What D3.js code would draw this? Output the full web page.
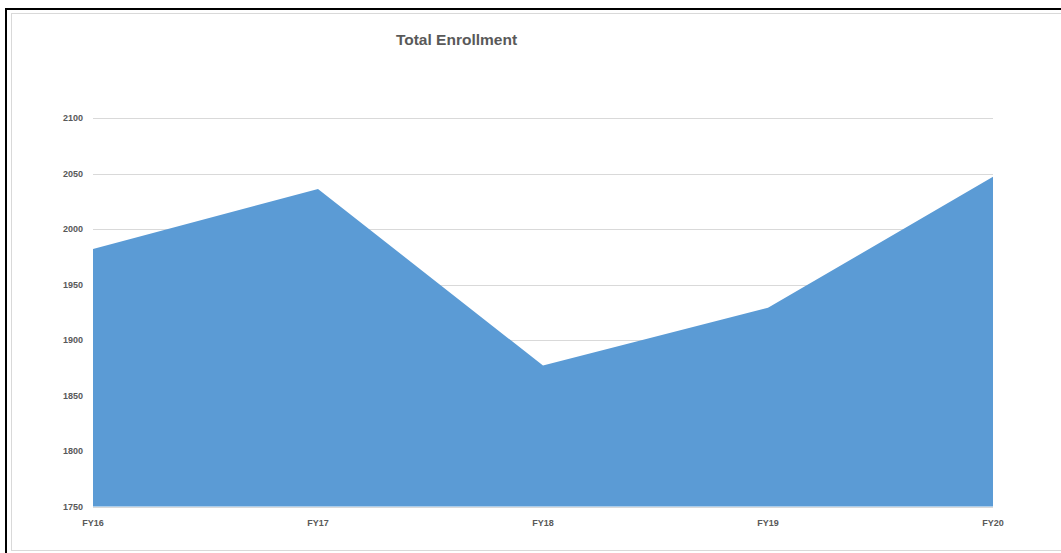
<!DOCTYPE html>
<html><head><meta charset="utf-8">
<script src="https://cdn.jsdelivr.net/npm/d3@7"></script>
<style>body{margin:0;background:#fff;}svg{display:block;}</style>
</head><body>
<script>
const categories = ["FY16","FY17","FY18","FY19","FY20"];
const enrollment = [1982, 2036, 1877, 1929, 2047];
const yTicks = [1750,1800,1850,1900,1950,2000,2050,2100];
const chartTitle = "Total Enrollment";

const W = 1061, H = 553;
const svg = d3.select("body").append("svg").attr("width", W).attr("height", H);

// frames
svg.append("rect").attr("x", 6).attr("y", 9).attr("width", W + 10).attr("height", H + 10)
  .attr("fill", "none").attr("stroke", "#000").attr("stroke-width", 2);
svg.append("rect").attr("x", 11.5).attr("y", 13.5).attr("width", W + 10).attr("height", 537)
  .attr("fill", "#fff").attr("stroke", "#d9d9d9").attr("stroke-width", 1);

const x = d3.scalePoint().domain(categories).range([93, 993]);
const y = d3.scaleLinear().domain([1750, 2100]).range([506.5, 118]);

// grid
svg.append("g").selectAll("line").data(yTicks.filter(d => d > 1750)).join("line")
  .attr("x1", 93).attr("x2", 993)
  .attr("y1", d => Math.round(y(d)) + 0.5).attr("y2", d => Math.round(y(d)) + 0.5)
  .attr("stroke", "#d9d9d9").attr("stroke-width", 1);

// area
const data = categories.map((c, i) => ({c, v: enrollment[i]}));
svg.append("path").datum(data)
  .attr("d", d3.area().x(d => x(d.c)).y0(y(1750)).y1(d => y(d.v)))
  .attr("fill", "#5b9bd5");

// baseline
svg.append("line").attr("x1", 93).attr("x2", 993)
  .attr("y1", Math.round(y(1750)) + 0.5).attr("y2", Math.round(y(1750)) + 0.5)
  .attr("stroke", "#d9d9d9");

const font = "'Liberation Sans', Arial, sans-serif";
// y labels
svg.append("g").selectAll("text").data(yTicks).join("text")
  .attr("x", 83).attr("y", d => y(d) + 3)
  .attr("text-anchor", "end")
  .attr("font-family", font).attr("font-weight", "bold").attr("font-size", 9)
  .attr("fill", "#595959").text(d => d);

// x labels
svg.append("g").selectAll("text").data(categories).join("text")
  .attr("x", d => x(d)).attr("y", 526)
  .attr("text-anchor", "middle")
  .attr("font-family", font).attr("font-weight", "bold").attr("font-size", 9)
  .attr("fill", "#595959").text(d => d);

// title
svg.append("text").attr("x", 456.5).attr("y", 44.5)
  .attr("text-anchor", "middle")
  .attr("font-family", font).attr("font-weight", "bold").attr("font-size", 15.5)
  .attr("fill", "#595959").text(chartTitle);
</script>
</body></html>
